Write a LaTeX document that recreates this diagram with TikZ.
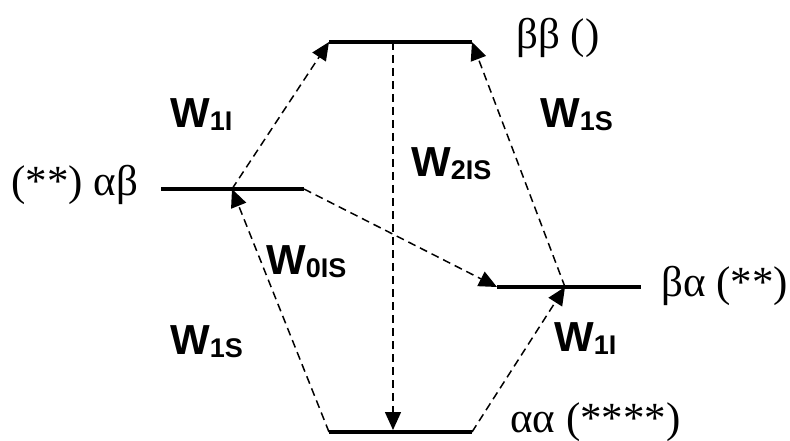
\documentclass[tikz,border=0pt]{standalone}
\usepackage{fontspec}
\setmainfont{Liberation Serif}
\newfontfamily\wfont{Liberation Sans}
\newfontfamily\gfont{Liberation Serif}
\usetikzlibrary{arrows.meta}
\newcommand\Wsub[1]{W\raisebox{-3pt}{\fontsize{27}{28}\selectfont #1}}
\begin{document}
\begin{tikzpicture}[x=1pt,y=-1pt,
  level/.style={line width=4.5pt},
  trans/.style={dash pattern=on 8pt off 5pt, line width=1.5pt, -{Triangle[length=18pt,width=16pt]}},
  wlab/.style={anchor=base west, inner sep=0pt, font=\wfont\bfseries\fontsize{42}{44}\selectfont},
  glab/.style={anchor=base west, inner sep=0pt, font=\gfont\fontsize{43}{45}\selectfont}]
\useasboundingbox (0,0) rectangle (790,441);
% level end points
\coordinate (bbL) at (329,42);  \coordinate (bbR) at (472,42);
\coordinate (abL) at (161,189); \coordinate (abR) at (304,189);
\coordinate (baL) at (497,287); \coordinate (baR) at (641,287);
\coordinate (aaL) at (329,432); \coordinate (aaR) at (472,432);
\coordinate (abM) at (232,189); \coordinate (baM) at (565,287);
\coordinate (bbM) at (393,42);  \coordinate (aaM) at (393,430);
% levels
\draw[level] (bbL) -- (bbR);
\draw[level] (abL) -- (abR);
\draw[level] (baL) -- (baR);
\draw[level] (aaL) -- (aaR);
% transitions
\draw[trans] (abM) -- (bbL);
\draw[trans] (aaL) -- (abM);
\draw[trans] (baM) -- (bbR);
\draw[trans] (aaR) -- (baM);
\draw[trans] (abR) -- (baL);
\draw[trans] (bbM) -- (aaM);
% rate labels
\node[wlab] (w1il) at (170,128) {\Wsub{1I}};
\node[wlab] (w1sr) at (540,128) {\Wsub{1S}};
\node[wlab] (w2is) at (411,176) {\Wsub{2IS}};
\node[wlab] (w0is) at (266,274) {\Wsub{0IS}};
\node[wlab] (w1sl) at (170,354) {\Wsub{1S}};
\node[wlab] (w1ir) at (554,351) {\Wsub{1I}};
% state labels
\node[glab] (sab) at (11,196) {(**) αβ};
\node[glab] (sbb) at (516,49) {ββ ()};
\node[glab] (sba) at (661,296) {βα (**)};
\node[glab] (saa) at (510,432) {αα (****)};
\end{tikzpicture}
\end{document}
